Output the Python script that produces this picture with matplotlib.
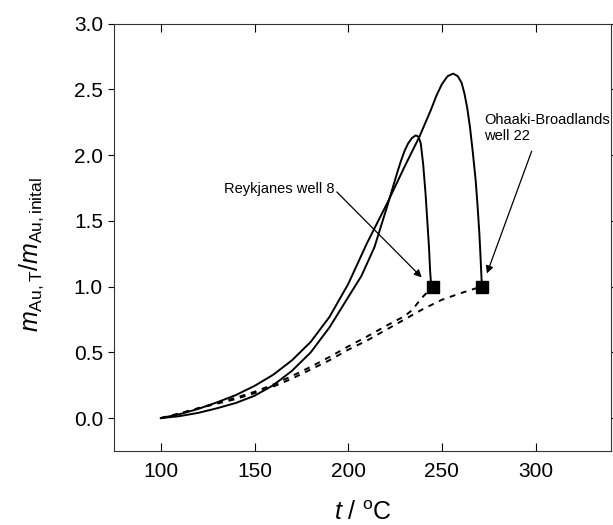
import matplotlib
matplotlib.use('Agg')
import matplotlib.pyplot as plt

plt.rcParams['font.family'] = ['Liberation Sans', 'DejaVu Sans']
plt.rcParams['mathtext.fontset'] = 'custom'
plt.rcParams['mathtext.rm'] = 'Liberation Sans'
plt.rcParams['mathtext.it'] = 'Liberation Sans:italic'

# solid curves
t_ohaaki = [100, 110, 120, 130, 140, 150, 160, 170, 180, 190, 200, 210, 221, 230,
            238, 244, 247, 250, 253, 256, 258.5, 260.5, 262, 263.5, 265, 266.5, 268,
            269, 270, 270.7, 271.2]
m_ohaaki = [0.0, 0.03, 0.07, 0.12, 0.175, 0.245, 0.33, 0.44, 0.58, 0.77, 1.02, 1.33, 1.64, 1.91,
            2.14, 2.34, 2.45, 2.54, 2.60, 2.62, 2.60, 2.55, 2.47, 2.36, 2.21, 2.02, 1.81,
            1.62, 1.40, 1.20, 1.04]

t_reyk = [100, 110, 120, 130, 140, 150, 160, 170, 180, 190, 200, 207, 214, 221, 226, 228,
          230, 232, 234, 236, 237.5, 238.7, 240, 241.3, 242.2, 243.1, 243.7, 244.2]
m_reyk = [0.0, 0.015, 0.04, 0.075, 0.115, 0.17, 0.25, 0.36, 0.50, 0.69, 0.92, 1.08, 1.30, 1.62, 1.86, 1.95,
          2.03, 2.09, 2.13, 2.15, 2.14, 2.09, 1.93, 1.70, 1.50, 1.30, 1.12, 1.02]

# dashed curves
t_ohaaki_d = [100, 110, 120, 130, 140, 150, 160, 170, 180, 190, 200, 210, 220, 230, 240, 250, 260, 271]
m_ohaaki_d = [0.0, 0.035, 0.075, 0.11, 0.145, 0.19, 0.24, 0.30, 0.37, 0.44, 0.52, 0.59, 0.67, 0.75,
              0.83, 0.90, 0.95, 1.0]

t_reyk_d = [100, 110, 120, 130, 140, 150, 160, 170, 180, 190, 200, 210, 220, 230, 234, 239, 245]
m_reyk_d = [0.0, 0.035, 0.075, 0.115, 0.155, 0.20, 0.255, 0.32, 0.39, 0.465, 0.545, 0.62, 0.70,
            0.775, 0.82, 0.91, 1.0]

# measured points
t_wells = [245.2, 271.4]
m_wells = [1.0, 1.0]

fig = plt.figure(figsize=(6.13, 5.25), dpi=100)
ax = fig.add_axes([0.186, 0.141, 0.81, 0.814])

ax.plot(t_ohaaki, m_ohaaki, color='black', lw=1.4)
ax.plot(t_reyk, m_reyk, color='black', lw=1.4)
ax.plot(t_ohaaki_d, m_ohaaki_d, color='black', lw=1.4, ls=(0, (3, 3)))
ax.plot(t_reyk_d, m_reyk_d, color='black', lw=1.4, ls=(0, (3, 3)))
ax.plot(t_wells, m_wells, 's', color='black', ms=8.5)

ax.text(133.5, 1.74, 'Reykjanes well 8', fontsize=10.5, ha='left', va='center')
ax.annotate('', xy=(239.2, 1.07), xytext=(193.9, 1.72),
            arrowprops=dict(arrowstyle='-|>', color='black', lw=0.9, mutation_scale=11,
                            shrinkA=0, shrinkB=0))
ax.text(272.6, 2.205, 'Ohaaki-Broadlands\nwell 22', fontsize=10.5, ha='left', va='center',
        linespacing=1.2, clip_on=False)
ax.annotate('', xy=(274, 1.10), xytext=(297.9, 2.03),
            arrowprops=dict(arrowstyle='-|>', color='black', lw=0.9, mutation_scale=11,
                            shrinkA=0, shrinkB=0))

ax.set_xlim(75, 340)
ax.set_ylim(-0.25, 3.0)
ax.set_xticks([100, 150, 200, 250, 300])
ax.set_yticks([0.0, 0.5, 1.0, 1.5, 2.0, 2.5, 3.0])
ax.set_yticklabels(['0.0', '0.5', '1.0', '1.5', '2.0', '2.5', '3.0'])
ax.tick_params(axis='x', direction='in', top=True, length=6, labelsize=15, pad=8, width=0.8)
ax.tick_params(axis='y', direction='out', length=4, labelsize=15, pad=4, width=0.8)
ax.tick_params(axis='y', which='major', right=True)
for sp in ax.spines.values():
    sp.set_linewidth(0.8)
    sp.set_color('#333333')

ax.set_xlabel(r'$t$ / $^{\mathrm{o}}$C', fontsize=18, labelpad=14)
ax.set_ylabel(r'$m_{\mathrm{Au,T}}/m_{\mathrm{Au,inital}}$', fontsize=18)
ax.yaxis.set_label_coords(-0.137, 0.46)

fig.savefig('out.png', dpi=100)
